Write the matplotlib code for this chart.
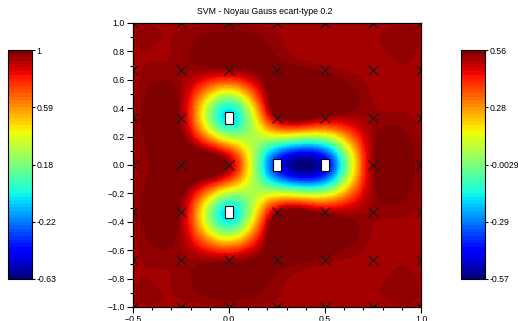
import numpy as np
import matplotlib
matplotlib.use("Agg")
import matplotlib.pyplot as plt
from matplotlib import font_manager
from matplotlib.colors import Normalize
from matplotlib.cm import ScalarMappable
from matplotlib.ticker import MultipleLocator

names = {f.name for f in font_manager.fontManager.ttflist}
if 'Liberation Sans Narrow' in names:
    plt.rcParams['font.family'] = ['Liberation Sans Narrow', 'DejaVu Sans']
    fs = 7.0
else:
    plt.rcParams['font.family'] = ['Liberation Sans', 'DejaVu Sans']
    fs = 6.3

# training points on a 7x7 grid; class -1 = squares, class +1 = crosses
x_grid = [-0.5, -0.25, 0.0, 0.25, 0.5, 0.75, 1.0]
y_grid = [-1.0, -2/3, -1/3, 0.0, 1/3, 2/3, 1.0]
neg_x = [0.0, 0.0, 0.25, 0.5]
neg_y = [1/3, -1/3, 0.0, 0.0]

# gaussian kernel (y axis is stretched 4/3 w.r.t. the x axis)
gamma_x = 25.0
gamma_y = 14.0625
C = 1.3
# far-field level
bias = 0.86

# colorbar ranges
left_min, left_max = -0.63, 1.0
right_min, right_max = -0.5689, 0.5631

title = "SVM - Noyau Gauss ecart-type 0.2"

pts = np.array([(xv, yv) for xv in x_grid for yv in y_grid])
is_neg = np.array([any(abs(p[0] - a) < 1e-9 and abs(p[1] - b) < 1e-9
                       for a, b in zip(neg_x, neg_y)) for p in pts])
lab = np.where(is_neg, -1.0, 1.0)


def kernel(A, B):
    dx = A[:, None, 0] - B[None, :, 0]
    dy = A[:, None, 1] - B[None, :, 1]
    return np.exp(-(gamma_x * dx**2 + gamma_y * dy**2))


def project(v):
    lo, hi = -20.0, 20.0
    for _ in range(40):
        mu = (lo + hi) / 2
        if lab @ np.clip(v - mu * lab, 0, C) > 0:
            lo = mu
        else:
            hi = mu
    return np.clip(v - mu * lab, 0, C)


# dual SVM solved by accelerated projected gradient
K = kernel(pts, pts)
Q = np.outer(lab, lab) * K
step = 1.0 / np.linalg.eigvalsh(Q).max()
alpha = np.zeros(len(pts))
z = alpha.copy()
t = 1.0
for _ in range(2500):
    a_new = project(z + step * (1 - Q @ z))
    t_new = (1 + np.sqrt(1 + 4 * t * t)) / 2
    z = a_new + (t - 1) / t_new * (a_new - alpha)
    alpha, t = a_new, t_new
w = alpha * lab

gx, gy = np.meshgrid(np.linspace(-0.5, 1.0, 300), np.linspace(-1.0, 1.0, 400))
grid = np.c_[gx.ravel(), gy.ravel()]
f = (kernel(grid, pts) @ w + bias).reshape(gx.shape)

cmap = plt.get_cmap('jet', 64)

fig = plt.figure(figsize=(5.18, 3.21), dpi=100)
ax = fig.add_axes([133/518, 1 - 307/321, 288/518, 284/321])
ax.imshow(f, origin='lower', extent=[-0.5, 1.0, -1.0, 1.0], cmap=cmap,
          vmin=left_min, vmax=left_max, aspect='auto', interpolation='nearest')

ax.plot(pts[~is_neg, 0], pts[~is_neg, 1], 'x', color='#1a1a1a',
        markersize=6.5, markeredgewidth=0.8)
rect = [(-0.7, -1), (0.7, -1), (0.7, 1), (-0.7, 1), (-0.7, -1)]
ax.plot(neg_x, neg_y, linestyle='none', marker=rect, markersize=8,
        markerfacecolor='white', markeredgecolor='black', markeredgewidth=0.8)

ax.set_xlim(-0.5, 1.0)
ax.set_ylim(-1.0, 1.0)
ax.xaxis.set_major_locator(MultipleLocator(0.5))
ax.xaxis.set_minor_locator(MultipleLocator(0.1))
ax.yaxis.set_major_locator(MultipleLocator(0.2))
ax.yaxis.set_minor_locator(MultipleLocator(0.1))
ax.xaxis.set_major_formatter('{x:.1f}')
ax.yaxis.set_major_formatter('{x:.1f}')
ax.tick_params(which='major', length=4, width=0.8, labelsize=fs, pad=2, direction='out')
ax.tick_params(which='minor', length=2, width=0.8, direction='out')
for sp in ax.spines.values():
    sp.set_linewidth(0.9)

fig.text(265/518, 1 - 12/321, title, ha='center', va='center', fontsize=fs)


def add_bar(left, vmin, vmax):
    cax = fig.add_axes([left/518, 1 - 279/321, 24/518, 229/321])
    cb = fig.colorbar(ScalarMappable(Normalize(vmin, vmax), cmap), cax=cax)
    ticks = np.linspace(vmin, vmax, 5)
    cb.set_ticks(ticks)
    cb.set_ticklabels(['%.2g' % v for v in ticks])
    cax.tick_params(labelsize=fs, length=2, width=0.8, pad=1)
    cb.outline.set_linewidth(0.8)
    return cb


add_bar(8, left_min, left_max)
add_bar(461, right_min, right_max)

fig.savefig("out.png", dpi=100)
